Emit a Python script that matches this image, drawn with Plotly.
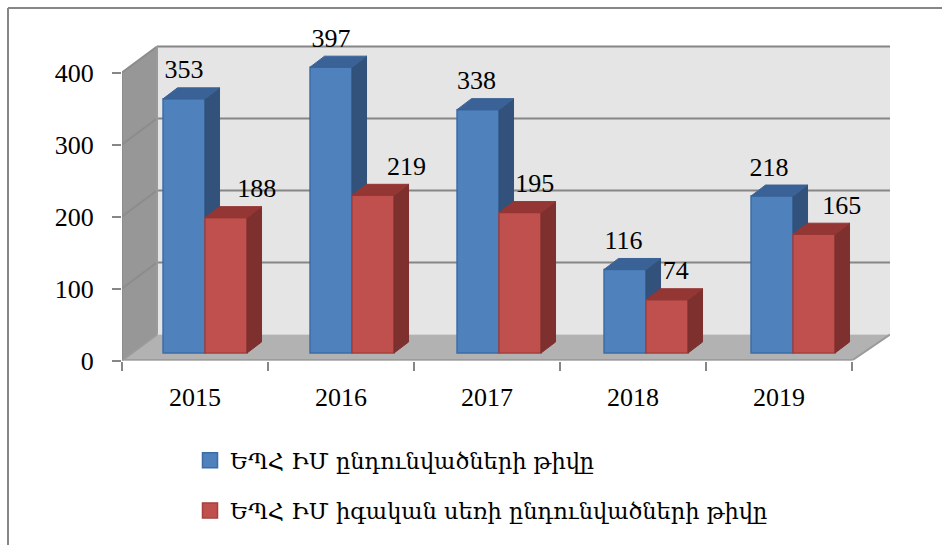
import plotly.graph_objects as go

categories = ["2015", "2016", "2017", "2018", "2019"]
admitted = [353, 397, 338, 116, 218]
admitted_women = [188, 219, 195, 74, 165]
y_ticks = [0, 100, 200, 300, 400]
series_names = ["ԵՊՀ ԻՄ ընդունվածների թիվը", "ԵՊՀ ԻՄ իգական սեռի ընդունվածների թիվը"]
# horizontal nudges of the value labels relative to their bars, in category units
label_nudge_blue = [0.0, 0.0, -0.01, -0.01, -0.02]
label_nudge_red = [0.21, 0.23, 0.10, 0.06, 0.19]

W, H = 942, 545
L, R, T, B = 122, 890, 12, 360.5     # plot-area pixels (with headroom for the top label)
cat_px = 146.0
val_px = 0.72
xmin = -0.5
xmax = xmin + (R - L) / cat_px
ymax = (B - T) / val_px
wall_dx = 35 / cat_px
wall_dy = 26 / val_px
wall_top = y_ticks[-1] + wall_dy
xfront = xmin + len(categories)
bar_w = 42 / cat_px
bar_base = 7.5 / val_px
bar_pitch = 147 / cat_px
side_dx = 14.5 / cat_px
side_dy = 11 / val_px
off_blue = -0.219
off_red = off_blue + bar_w
GRID = "#868686"
FONT = "Liberation Serif"
dom_x = [L / W, R / W]
dom_y = [1 - B / H, 1 - T / H]


def poly(points, fill, line=None):
    d = "M" + "L".join(f"{x},{y}" for x, y in points) + "Z"
    return dict(type="path", path=d, xref="x", yref="y", fillcolor=fill, layer="below",
                line=dict(width=0 if line is None else 2, color=line or fill))


def seg(p, q, color=GRID, width=2):
    return dict(type="line", x0=p[0], y0=p[1], x1=q[0], y1=q[1], xref="x", yref="y",
                layer="below", line=dict(color=color, width=width))


shapes = [
    poly([(xmin + wall_dx, wall_dy), (xmax, wall_dy), (xmax, wall_top), (xmin + wall_dx, wall_top)], "#e5e5e5"),
    poly([(xmin, 0), (xmin + wall_dx, wall_dy), (xmin + wall_dx, wall_top), (xmin, y_ticks[-1])], "#979797"),
    poly([(xmin, 0), (xfront, 0), (xmax, wall_dy), (xmin + wall_dx, wall_dy)], "#b2b2b2"),
]
for v in y_ticks[1:]:
    shapes.append(seg((xmin, v), (xmin + wall_dx, v + wall_dy), "#8c8c8c"))
    shapes.append(seg((xmin + wall_dx, v + wall_dy), (xmax, v + wall_dy)))
shapes += [
    seg((xmin, 0), (xfront, 0)),
    seg((xfront, 0), (xmax, wall_dy), "#9a9a9a"),
    seg((xmin, 0), (xmin + wall_dx, wall_dy), "#9a9a9a"),
    seg((xmin, 0), (xmin, y_ticks[-1]), "#8c8c8c"),
    seg((xmin + wall_dx, wall_dy), (xmin + wall_dx, wall_top), "#9a9a9a"),
]

# outer chart frame
shapes += [
    dict(type="line", xref="paper", yref="paper", x0=8 / W, x1=8 / W, y0=1 - 8 / H, y1=0,
         line=dict(color=GRID, width=2), layer="below"),
    dict(type="line", xref="paper", yref="paper", x0=8 / W, x1=1, y0=1 - 8 / H, y1=1 - 8 / H,
         line=dict(color=GRID, width=2), layer="below"),
]


def faces(values, off):
    side_x, side_y, top_x, top_y = [], [], [], []
    for i, v in enumerate(values):
        x0 = i * bar_pitch + off
        x1 = x0 + bar_w
        y0 = bar_base
        y1 = bar_base + v
        side_x += [x1, x1 + side_dx, x1 + side_dx, x1, x1, None]
        side_y += [y0, y0 + side_dy, y1 + side_dy, y1, y0, None]
        top_x += [x0, x1, x1 + side_dx, x0 + side_dx, x0, None]
        top_y += [y1, y1, y1 + side_dy, y1 + side_dy, y1, None]
    return side_x, side_y, top_x, top_y


fig = go.Figure()


def add_series(values, off, front, edge, side, top, ax):
    xa, ya = "x" + ax, "y" + ax
    sx, sy, tx, ty = faces(values, off)
    fig.add_trace(go.Bar(x=[i * bar_pitch for i in range(len(values))], y=values, base=bar_base,
                         width=bar_w, offset=off, xaxis=xa, yaxis=ya, showlegend=False, hoverinfo="y",
                         marker=dict(color=front, line=dict(color=edge, width=1.5))))
    fig.add_trace(go.Scatter(x=sx, y=sy, mode="lines", fill="toself", fillcolor=side, xaxis=xa, yaxis=ya,
                             line=dict(color=side, width=1), showlegend=False, hoverinfo="skip"))
    fig.add_trace(go.Scatter(x=tx, y=ty, mode="lines", fill="toself", fillcolor=top, xaxis=xa, yaxis=ya,
                             line=dict(color=top, width=1), showlegend=False, hoverinfo="skip"))


# invisible trace that activates the base axes
fig.add_trace(go.Scatter(x=[xmin], y=[0], mode="markers", marker=dict(opacity=0), showlegend=False,
                         hoverinfo="skip"))
add_series(admitted, off_blue, "#4f81bd", "#3b6ca6", "#32527b", "#3a6296", "2")
add_series(admitted_women, off_red, "#c0504d", "#a5403d", "#7d302e", "#943634", "3")

label_x = [i * bar_pitch + off_blue + bar_w / 2 + n for i, n in enumerate(label_nudge_blue)] + \
          [i * bar_pitch + off_red + bar_w / 2 + n for i, n in enumerate(label_nudge_red)]
label_v = admitted + admitted_women
fig.add_trace(go.Scatter(x=label_x, y=[v + bar_base + 27 / val_px for v in label_v],
                         mode="text", text=[str(v) for v in label_v], textposition="middle center",
                         textfont=dict(family=FONT, size=26, color="black"), cliponaxis=False,
                         xaxis="x3", yaxis="y3", showlegend=False, hoverinfo="skip"))

# legend keys
for name, col, edge in zip(series_names, ["#4f81bd", "#c0504d"], ["#3b6ca6", "#a5403d"]):
    fig.add_trace(go.Scatter(x=[None], y=[None], mode="markers", name=name, legendgroup=name,
                             marker=dict(symbol="square", size=15, color=col, line=dict(color=edge, width=1.5))))

hidden = dict(visible=False, range=[xmin, xmax], fixedrange=True, domain=dom_x)
hidden_y = dict(visible=False, range=[0, ymax], fixedrange=True, domain=dom_y)
fig.update_layout(
    width=W, height=H, autosize=False,
    margin=dict(l=0, r=0, t=0, b=0, pad=0, autoexpand=False),
    paper_bgcolor="white", plot_bgcolor="rgba(0,0,0,0)",
    barmode="overlay", shapes=shapes,
    font=dict(family=FONT, size=26, color="black"),
    xaxis=dict(domain=dom_x, range=[xmin, xmax], tickmode="array", tickvals=list(range(len(categories))),
               ticktext=categories, ticks="outside", ticklen=9, tickcolor="rgba(0,0,0,0)", ticklabelstandoff=4,
               tickfont=dict(family=FONT, size=26), showgrid=False, zeroline=False, showline=False, fixedrange=True,
               minor=dict(tickmode="array", tickvals=[xmin + i for i in range(len(categories) + 1)], ticks="outside",
                          ticklen=9, tickwidth=2, tickcolor=GRID, showgrid=False)),
    yaxis=dict(domain=dom_y, range=[0, ymax], tickmode="array", tickvals=y_ticks, ticks="outside", ticklen=9,
               tickwidth=2, tickcolor=GRID, ticklabelstandoff=13, tickfont=dict(family=FONT, size=26), showgrid=False,
               zeroline=False, showline=False, fixedrange=True),
    xaxis2=dict(hidden, overlaying="x"), yaxis2=dict(hidden_y, overlaying="y"),
    xaxis3=dict(hidden, overlaying="x"), yaxis3=dict(hidden_y, overlaying="y"),
    legend=dict(x=190 / W, y=1 - 532 / H, xanchor="left", yanchor="bottom", bgcolor="rgba(0,0,0,0)",
                font=dict(family="DejaVu Serif", size=22.5, color="black"), tracegroupgap=18, itemwidth=30,
                traceorder="grouped"),
)
fig.write_html("out.html", config=dict(displayModeBar=False),
               post_script="document.body.style.margin='0';")
